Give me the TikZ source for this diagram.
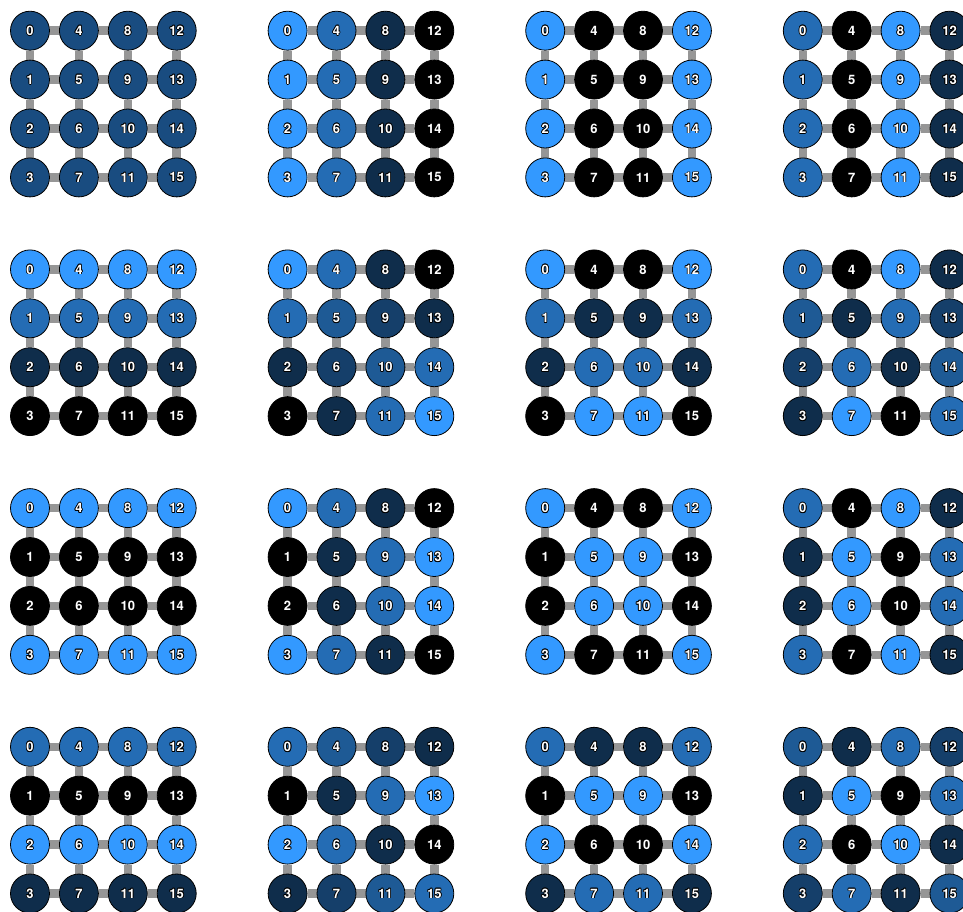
\documentclass[tikz,border=0pt]{standalone}
\usepackage{fontspec}
\setmainfont{TeX Gyre Heros}
\definecolor{lb}{RGB}{51,153,255}
\definecolor{edgegray}{RGB}{150,150,150}
\newlength\olw
\setlength\olw{0.8pt}
\newcommand\outlined[1]{%
 \rlap{\kern-\olw\hbox{\color{black}#1}}%
 \rlap{\kern\olw\hbox{\color{black}#1}}%
 \rlap{\raise\olw\hbox{\color{black}#1}}%
 \rlap{\lower\olw\hbox{\color{black}#1}}%
 \rlap{\kern-0.7\olw\raise0.7\olw\hbox{\color{black}#1}}%
 \rlap{\kern0.7\olw\raise0.7\olw\hbox{\color{black}#1}}%
 \rlap{\kern-0.7\olw\lower0.7\olw\hbox{\color{black}#1}}%
 \rlap{\kern0.7\olw\lower0.7\olw\hbox{\color{black}#1}}%
 \hbox{\color{white}#1}}
\pgfdeclarelayer{bg}
\pgfsetlayers{bg,main}
\begin{document}
\begin{tikzpicture}[x=1pt,y=-1pt,
  nd/.style={circle,draw=black,line width=0.8pt,minimum size=39pt,inner sep=0pt,
    font=\fontsize{13}{14}\selectfont\bfseries},
  edge/.style={draw=edgegray,line width=8.5pt}]
\useasboundingbox (0,0) rectangle (963,911);
\foreach \gi in {0,...,3}{
 \foreach \gj in {0,...,3}{
  \pgfmathsetmacro\mi{{1,0.92388,0.70711,0.92388}[\gi]}
  \pgfmathsetmacro\mj{{1,0.92388,0.70711,0.92388}[\gj]}
  \foreach \c in {0,...,3}{
   \foreach \r in {0,...,3}{
    \pgfmathtruncatemacro\n{4*\c+\r}
    \pgfmathsetmacro\vr{cos(22.5*\gi*(2*\r+1))/\mi}
    \pgfmathsetmacro\vc{cos(22.5*\gj*(2*\c+1))/\mj}
    \ifnum\numexpr\gi+\gj\relax=0
      \def\T{50}
    \else
      \pgfmathsetmacro\T{max(0,min(100,50*(1+\vr*\vc)))}
    \fi
    \pgfmathsetmacro\px{30+\gj*257.6+\c*48.9}
    \pgfmathsetmacro\py{30.7+\gi*238.7+\r*48.9}
    \node[nd,fill=lb!\T!black] (g\gi\gj n\n) at (\px,\py) {\outlined{\n}};
   }
  }
 }
}
\begin{pgfonlayer}{bg}
\foreach \gi in {0,...,3}{
 \foreach \gj in {0,...,3}{
  \foreach \c in {0,...,3}{
   \foreach \r in {0,...,3}{
    \pgfmathtruncatemacro\n{4*\c+\r}
    \ifnum\c<3 \pgfmathtruncatemacro\m{\n+4}\draw[edge] (g\gi\gj n\n) -- (g\gi\gj n\m);\fi
    \ifnum\r<3 \pgfmathtruncatemacro\m{\n+1}\draw[edge] (g\gi\gj n\n) -- (g\gi\gj n\m);\fi
   }
  }
 }
}
\end{pgfonlayer}
\end{tikzpicture}
\end{document}
